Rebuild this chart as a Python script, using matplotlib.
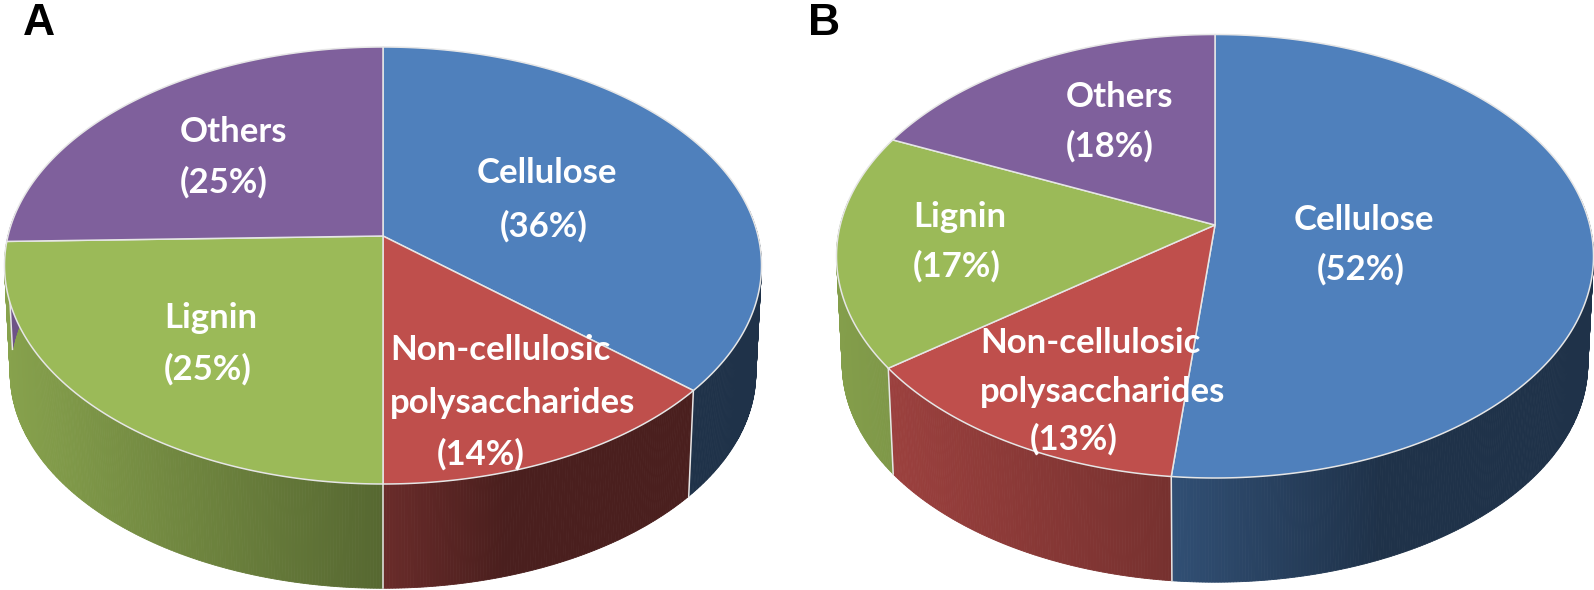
import numpy as np
import matplotlib
matplotlib.use("Agg")
import matplotlib.pyplot as plt

categories = ["Cellulose", "Non-cellulosic polysaccharides", "Lignin", "Others"]
# label percentages printed on the chart
percent_a = [36, 14, 25, 25]
percent_b = [52, 13, 17, 18]
shares_a = [36.4, 13.6, 24.6, 25.4]
shares_b = [51.6, 13.1, 17.1, 18.2]

colors = ["#4f80bc", "#bf4f4c", "#9bba58", "#7f609c"]
EDGE = "#e6e6e6"

fig = plt.figure(figsize=(15.94, 5.9), dpi=100)
ax = fig.add_axes([0, 0, 1, 1])
ax.set_xlim(0, 1594)
ax.set_ylim(590, 0)
ax.axis("off")


def rgb(h):
    return np.array(matplotlib.colors.to_rgb(h))


def draw_pie(shares, cx, apex, top, bottom, semi, drop, taper, shade_x, shade_v):
    up, down = apex - top, bottom - apex
    p = (down - up) / (down + up)
    h = up * (1 + p)
    a = semi * np.sqrt(1 - p * p)

    def project(t):
        x, y = np.sin(t), np.cos(t)
        w = 1 + p * y
        return cx + a * x / w, apex - h * y / w

    def floor(t):
        X, Y = project(t)
        return cx + taper * (X - cx), apex + taper * (Y - apex) + drop

    edges = np.radians(np.concatenate([[0], np.cumsum(shares)]) * 3.6)

    # side wall, strip by strip, only where it faces the viewer
    for i, c in enumerate(colors):
        t0, t1 = edges[i], edges[i + 1]
        ts = np.linspace(t0, t1, max(int((t1 - t0) * 140), 2))
        for u, v in zip(ts[:-1], ts[1:]):
            m = (u + v) / 2
            if np.cos(m) > 0.12:
                continue
            xa, ya = project(u)
            xb, yb = project(v)
            xc, yc = floor(v)
            xd, yd = floor(u)
            s = np.interp((xa + xb) / 2 - cx, shade_x, shade_v)
            col = rgb(c) * s
            ax.fill([xa, xb, xc, xd], [ya, yb, yc, yd], facecolor=col,
                    edgecolor=col, lw=0.6, zorder=2)

    # seams between wall segments
    for t in edges[1:-1]:
        if np.cos(t) < 0.1:
            xa, ya = project(t)
            xd, yd = floor(t)
            ax.plot([xa, xd], [ya, yd], color=EDGE, lw=1.1, zorder=3)

    # top surface
    for i, c in enumerate(colors):
        ts = np.linspace(edges[i], edges[i + 1], 240)
        X, Y = project(ts)
        ax.fill(np.r_[cx, X], np.r_[apex, Y], facecolor=c, edgecolor=EDGE,
                lw=1.1, joinstyle="round", zorder=4)
    # white back-rim is invisible on white; no outer outline beyond the edge above


draw_pie(shares_a, 383, 236, 47, 484, 378.5, 108, 0.985,
         [-378, -5, 120, 400], [0.87, 0.56, 0.39, 0.39])
draw_pie(shares_b, 1215, 225, 34.5, 478, 378.5, 108, 0.985,
         [-378, -45, 165, 400], [0.85, 0.62, 0.39, 0.39])

font = dict(family="Lato", weight="bold", color="white", fontsize=25, zorder=6,
            ha="left", va="baseline")

labels = [
    ("Others", 180, 142), (f"({percent_a[3]}%)", 180, 193),
    ("Lignin", 164, 328), (f"({percent_a[2]}%)", 164, 380),
    ("Cellulose", 477, 183), (f"({percent_a[0]}%)", 500, 237),
    ("Non-cellulosic", 390, 360), ("polysaccharides", 390, 413), (f"({percent_a[1]}%)", 437, 465),
    ("Others", 1066, 107), (f"({percent_b[3]}%)", 1066, 157),
    ("Lignin", 913, 227), (f"({percent_b[2]}%)", 913, 277),
    ("Cellulose", 1294, 230), (f"({percent_b[0]}%)", 1317, 280),
    ("Non-cellulosic", 980, 353), ("polysaccharides", 980, 402), (f"({percent_b[1]}%)", 1030, 450),
]
for s, x, y in labels:
    ax.text(x, y, s, **font)

for s, x in [("A", 23), ("B", 808)]:
    ax.text(x, 35, s, family="Liberation Sans", weight="bold", fontsize=32,
            color="black", ha="left", va="baseline", zorder=6)

fig.savefig("out.png", dpi=100, facecolor="white")
